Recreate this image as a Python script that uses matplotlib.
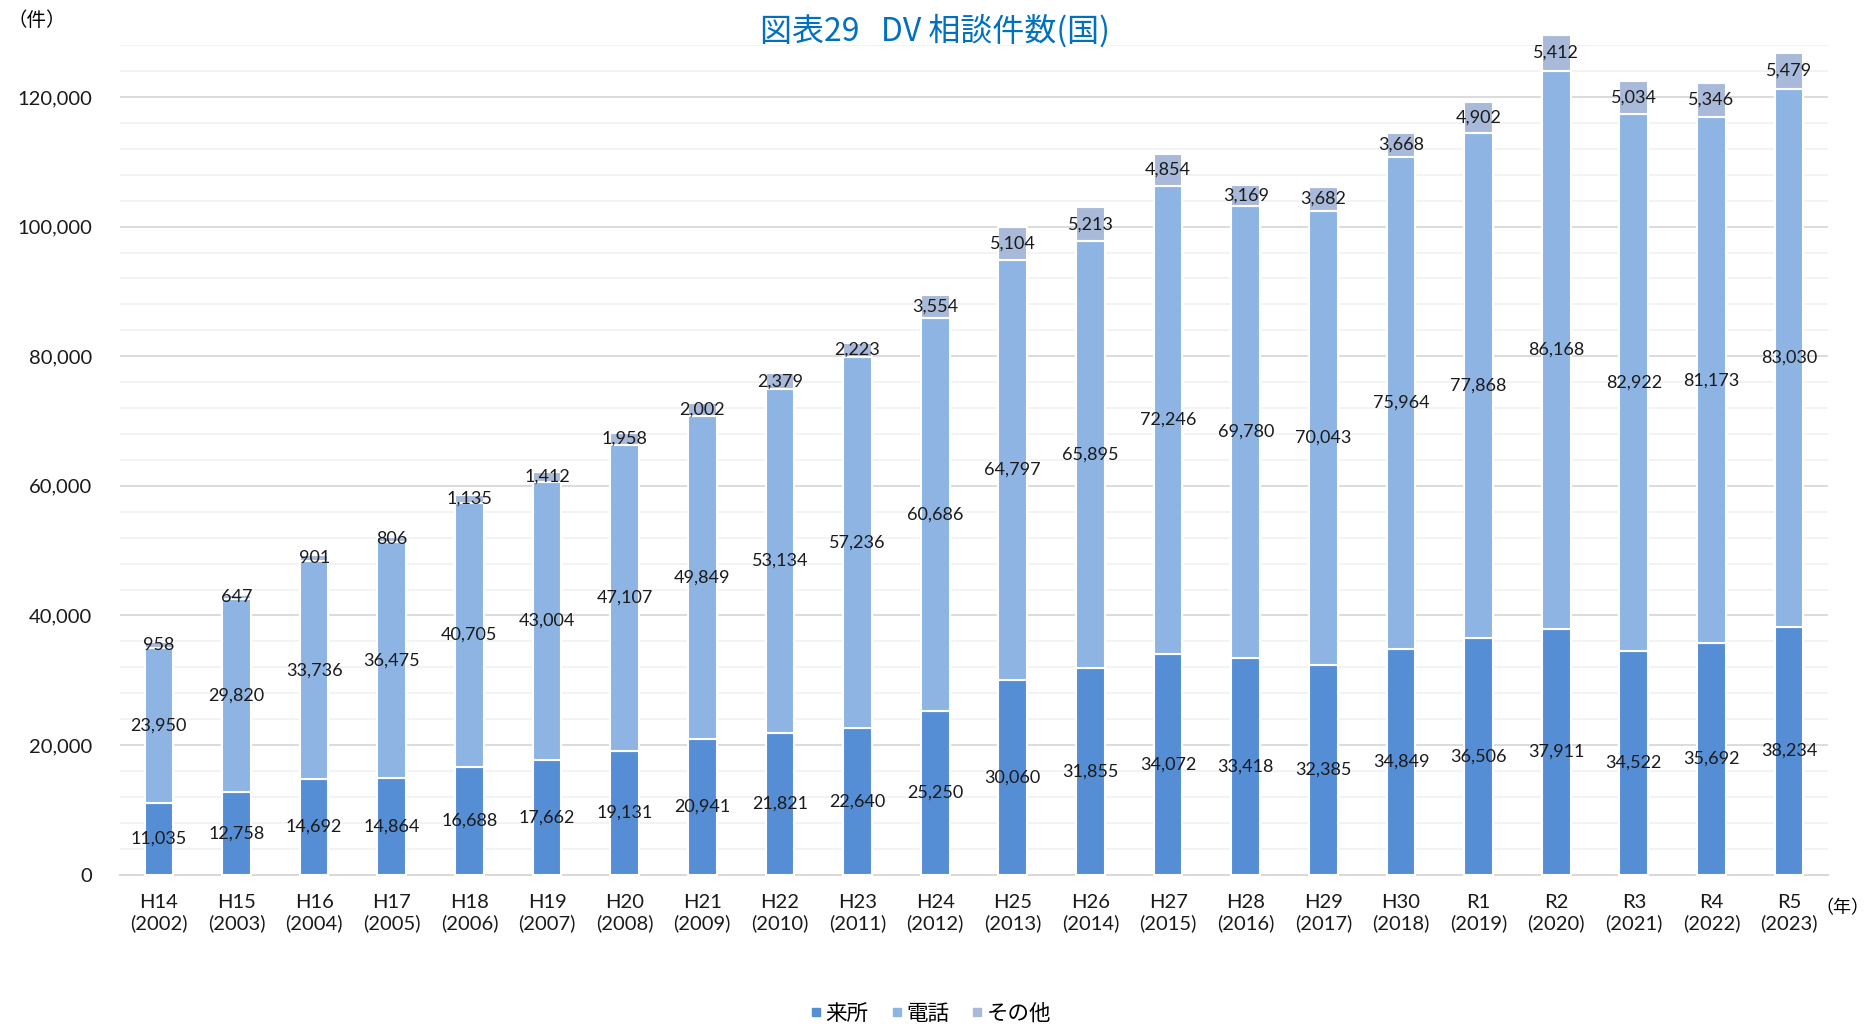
import matplotlib
matplotlib.use("Agg")
import matplotlib.pyplot as plt
from matplotlib.lines import Line2D
from matplotlib.ticker import MultipleLocator, FuncFormatter
import numpy as np

plt.rcParams['font.family'] = ['Lato', 'Noto Sans CJK JP', 'DejaVu Sans']

# データ
era = ["H14", "H15", "H16", "H17", "H18", "H19", "H20", "H21", "H22", "H23", "H24",
       "H25", "H26", "H27", "H28", "H29", "H30", "R1", "R2", "R3", "R4", "R5"]
years = list(range(2002, 2024))
visit = [11035, 12758, 14692, 14864, 16688, 17662, 19131, 20941, 21821, 22640, 25250,
         30060, 31855, 34072, 33418, 32385, 34849, 36506, 37911, 34522, 35692, 38234]
phone = [23950, 29820, 33736, 36475, 40705, 43004, 47107, 49849, 53134, 57236, 60686,
         64797, 65895, 72246, 69780, 70043, 75964, 77868, 86168, 82922, 81173, 83030]
other = [958, 647, 901, 806, 1135, 1412, 1958, 2002, 2379, 2223, 3554,
         5104, 5213, 4854, 3169, 3682, 3668, 4902, 5412, 5034, 5346, 5479]
series_names = ["来所", "電話", "その他"]
colors = ["#558ED5", "#8DB4E2", "#A9B9D9"]

jp = ["Noto Sans CJK JP", "DejaVu Sans"]

fig = plt.figure(figsize=(18.70, 10.26), dpi=100)
ax = fig.add_axes([0.0642, 0.1475, 0.9133, 0.8085])

x = np.arange(len(era))
bottom = np.zeros(len(era))
for vals, col in zip([visit, phone, other], colors):
    vals = np.array(vals)
    ax.bar(x, vals, width=0.37, bottom=bottom, color=col,
           edgecolor="white", linewidth=1.5, zorder=3, clip_on=False)
    for xi, b, v in zip(x, bottom, vals):
        ax.text(xi, b + v / 2, f"{v:,}", ha="center", va="center",
                fontsize=13, color="#1a1a1a", zorder=4)
    bottom += vals

ax.set_xlim(-0.5, len(era) - 0.5)
ax.set_ylim(0, 128000)
ax.yaxis.set_major_locator(MultipleLocator(20000))
ax.yaxis.set_minor_locator(MultipleLocator(4000))
ax.yaxis.set_major_formatter(FuncFormatter(lambda v, p: f"{int(v):,}"))
ax.grid(axis="y", which="major", color="#D9D9D9", linewidth=1.3, zorder=0)
ax.grid(axis="y", which="minor", color="#F2F2F2", linewidth=1.3, zorder=0)
ax.set_axisbelow(True)

for s in ["left", "right", "top"]:
    ax.spines[s].set_visible(False)
ax.spines["bottom"].set_color("#D9D9D9")
ax.spines["bottom"].set_linewidth(1.5)
ax.tick_params(axis="both", which="both", length=0, labelsize=14.5, colors="#1a1a1a")
ax.tick_params(axis="y", pad=20)
ax.tick_params(axis="x", pad=14)

ax.set_xticks(x)
ax.set_xticklabels([f"{e}\n({y})" for e, y in zip(era, years)], linespacing=1.2)

fig.text(0.5, 0.970, "図表29   DV 相談件数(国)", ha="center", va="center",
         fontsize=23, color="#0070C0", family=jp)
fig.text(0.004, 0.980, "（件）", ha="left", va="center", fontsize=14, family=jp)
fig.text(0.9995, 0.115, "（年）", ha="right", va="center", fontsize=13, family=jp)

handles = [Line2D([], [], marker="s", linestyle="none", markersize=6,
                  markerfacecolor=c, markeredgecolor=c) for c in colors]
fig.legend(handles, series_names, loc="center", bbox_to_anchor=(0.497, 0.012),
           ncol=3, frameon=False, handletextpad=0.05, columnspacing=0.9,
           handlelength=0.8, prop={"family": jp, "size": 15.5})

fig.savefig("out.png", dpi=100)
